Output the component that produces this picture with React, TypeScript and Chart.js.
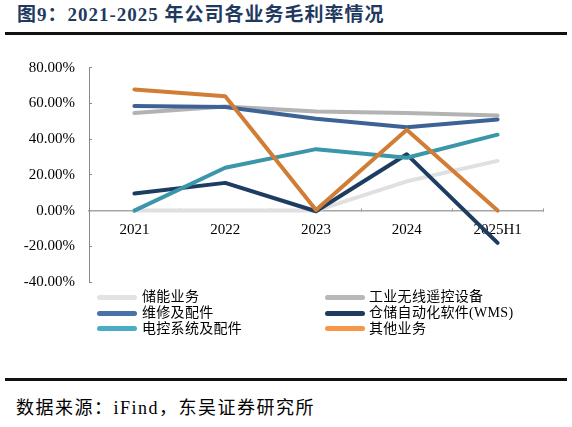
import React, { useEffect, useRef } from "react";
import { Chart, registerables } from "chart.js";

Chart.register(...registerables);

const categories = ["2021", "2022", "2023", "2024", "2025H1"];
const seriesNames = [
  "储能业务",
  "工业无线遥控设备",
  "维修及配件",
  "仓储自动化软件(WMS)",
  "电控系统及配件",
  "其他业务",
];
const storage = [0, 0, 0, 16.4, 27.8];
const wirelessRemote = [54.6, 58.3, 55.5, 54.6, 53.3];
const maintenance = [58.5, 58.0, 51.4, 46.6, 51.0];
const wms = [9.6, 15.5, -0.4, 31.5, -18.1];
const electricControl = [0, 24.0, 34.4, 29.6, 42.5];
const others = [67.8, 64.0, 0.3, 45.3, 0];
const yTicks = [-40, -20, 0, 20, 40, 60, 80];

const seriesValues = [storage, wirelessRemote, maintenance, wms, electricControl, others];
const lineColors = ["#e0e0e0", "#b3b3b3", "#3d6296", "#1d3c61", "#3b96aa", "#d27d35"];
const legendColors = ["#e3e3e3", "#b8b8b8", "#4a70a8", "#1f3b60", "#4bacc6", "#f79646"];

const SERIF = '"Times New Roman", "Liberation Serif", "Noto Sans CJK SC", serif';

export default function App() {
  const ref = useRef<HTMLCanvasElement>(null);

  useEffect(() => {
    const chart = new Chart(ref.current!, {
      type: "line",
      data: {
        labels: categories,
        datasets: seriesValues.map((d, i) => ({
          label: seriesNames[i],
          data: d,
          borderColor: lineColors[i],
          backgroundColor: lineColors[i],
          borderWidth: 4,
          pointRadius: 0,
          pointHoverRadius: 0,
          tension: 0,
          fill: false,
          order: seriesNames.length - i,
          borderCapStyle: "round",
          borderJoinStyle: "round",
        })),
      },
      options: {
        responsive: false,
        animation: false,
        devicePixelRatio: 1,
        layout: { padding: { left: 0, top: 67.7, right: 29, bottom: 0 } },
        plugins: { legend: { display: false }, tooltip: { enabled: false } },
        scales: {
          x: {
            type: "category",
            position: { y: 0 } as any,
            offset: true,
            grid: {
              display: true,
              drawOnChartArea: false,
              drawTicks: true,
              tickLength: -3,
              color: "#8c8c8c",
              offset: true,
            },
            border: { display: true, color: "#a6a6a6", width: 1.5 },
            ticks: {
              color: "#000",
              font: { family: SERIF, size: 15 },
              padding: 13,
              maxRotation: 0,
              autoSkip: false,
            },
          },
          y: {
            min: -40,
            max: 80,
            afterBuildTicks: (s: any) => {
              s.ticks = yTicks.map((v) => ({ value: v }));
            },
            afterFit: (s: any) => {
              s.width = 89;
            },
            grid: {
              display: true,
              drawOnChartArea: false,
              drawTicks: true,
              tickLength: -3,
              color: "#888",
            },
            border: { display: true, color: "#888", width: 1 },
            ticks: {
              color: "#000",
              font: { family: SERIF, size: 15 },
              padding: 17,
              callback: (v: any) => Number(v).toFixed(2) + "%",
            },
          },
        },
      },
    });
    return () => chart.destroy();
  }, []);

  const legendRows = [297, 313, 328.5];

  return (
    <div
      style={{
        position: "absolute",
        left: 0,
        top: 0,
        width: 572,
        height: 427,
        background: "#fff",
        fontFamily: SERIF,
        overflow: "hidden",
      }}
    >
      <div
        style={{
          position: "absolute",
          left: 17,
          top: 0,
          height: 30,
          lineHeight: "30px",
          fontSize: 19,
          fontWeight: "bold",
          color: "#1f3a5f",
          letterSpacing: 1,
          whiteSpace: "nowrap",
        }}
      >
        图9：2021-2025 年公司各业务毛利率情况
      </div>
      <div style={{ position: "absolute", left: 5, top: 32, width: 562, height: 3, background: "#111" }} />
      <canvas
        ref={ref}
        width={572}
        height={308}
        style={{ position: "absolute", left: 0, top: 0, width: 572, height: 308 }}
      />
      {seriesNames.map((name, i) => {
        const col = i % 2;
        const row = Math.floor(i / 2);
        const y = legendRows[row];
        const lx = col === 0 ? 97 : 325;
        const tx = col === 0 ? 142 : 369;
        return (
          <React.Fragment key={name}>
            <div
              style={{
                position: "absolute",
                left: lx,
                top: y - 2.5,
                width: 40,
                height: 5,
                borderRadius: 2.5,
                background: legendColors[i],
              }}
            />
            <div
              style={{
                position: "absolute",
                left: tx,
                top: y - 9,
                height: 18,
                lineHeight: "18px",
                fontSize: 14,
                color: "#000",
                letterSpacing: 0.3,
                whiteSpace: "nowrap",
              }}
            >
              {name}
            </div>
          </React.Fragment>
        );
      })}
      <div style={{ position: "absolute", left: 5, top: 377.5, width: 562, height: 3, background: "#111" }} />
      <div
        style={{
          position: "absolute",
          left: 16,
          top: 396,
          height: 24,
          lineHeight: "24px",
          fontSize: 18,
          color: "#000",
          letterSpacing: 1.5,
          whiteSpace: "nowrap",
        }}
      >
        数据来源：iFind，东吴证券研究所
      </div>
    </div>
  );
}
